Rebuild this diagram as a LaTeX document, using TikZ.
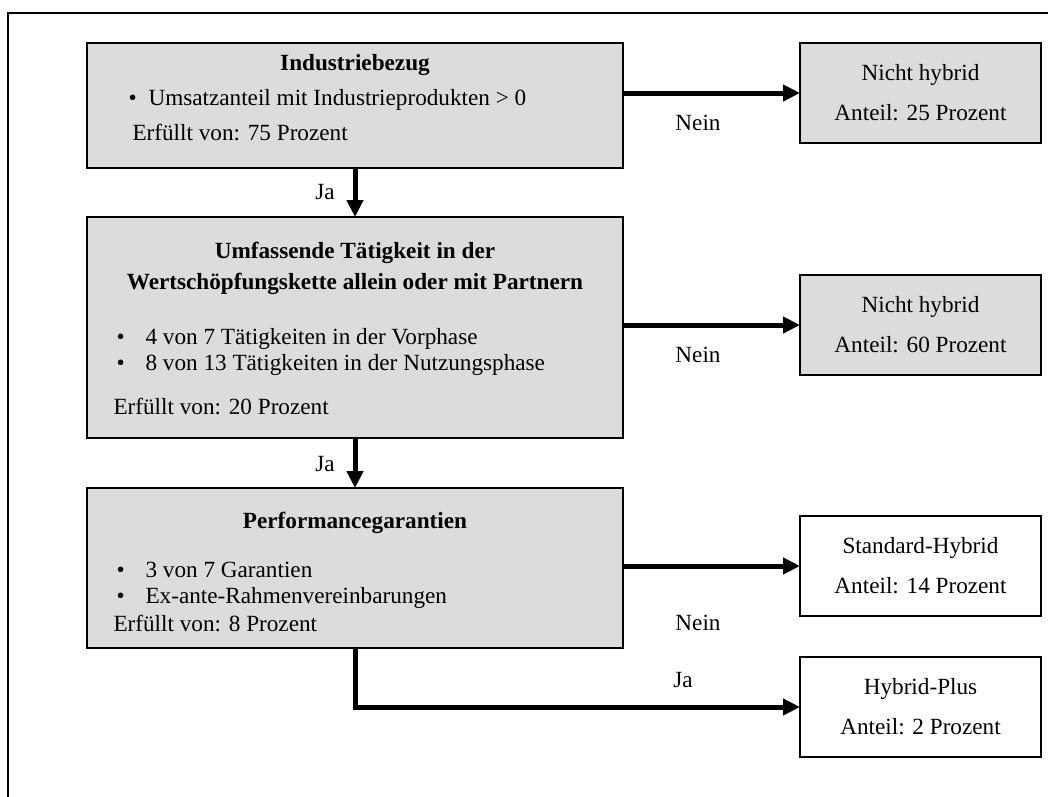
\documentclass[tikz,border=0pt]{standalone}
\usepackage{fontspec}
\setmainfont{Liberation Serif}
\usetikzlibrary{arrows.meta}

\definecolor{boxgray}{RGB}{220,220,220}

\tikzset{every picture/.style={line width=0.75pt}}
\tikzset{
	crit/.style={draw, line width=1.2pt, fill=boxgray, inner sep=0pt, outer sep=0pt, minimum width=402pt},
	result/.style={draw, line width=1.2pt, inner sep=0pt, outer sep=0pt, minimum width=180.75pt, minimum height=75pt, align=center},
	flow/.style={line width=3.75pt, -{Triangle[length=12.75pt,width=12pt]}},
	lbl/.style={inner sep=0pt},
	item/.style={inner sep=0pt, anchor=base west},
}

\begin{document}
\begin{tikzpicture}[x=0.75pt,y=0.75pt,yscale=-1,xscale=1,font=\fontsize{17.4}{21}\selectfont]
	\useasboundingbox (0,0) rectangle (1048,796); %picture is 1048 x 796

	%Straight Lines: frame, open to the right and below
	\draw [line width=1pt] (8,800) -- (8,13) -- (1050,13) ;

	%Shape: Rectangle [criteria]
	\node [crit, minimum height=93.75pt] (ind) at (355,105.5) {};
	\node [crit, minimum height=165.75pt] (umf) at (355,327.5) {};
	\node [crit, minimum height=120pt] (perf) at (355,568) {};

	%Shape: Rectangle [results]
	\node [result, fill=boxgray] (nh1) at (920.5,93) {Nicht hybrid\\[9pt]Anteil: 25 Prozent};
	\node [result, fill=boxgray] (nh2) at (920.5,325) {Nicht hybrid\\[9pt]Anteil: 60 Prozent};
	\node [result] (std) at (920.5,566) {Standard-Hybrid\\[9pt]Anteil: 14 Prozent};
	\node [result] (plus) at (920.5,707) {Hybrid-Plus\\[9pt]Anteil: 2 Prozent};

	%Straight Lines: Ja
	\draw [flow] (ind.south) -- (umf.north) ;
	\draw [flow] (umf.south) -- (perf.north) ;
	\draw [flow] (perf.south) |- (plus.west) ;
	%Straight Lines: Nein
	\draw [flow] (ind.east |- nh1.west) -- (nh1.west) ;
	\draw [flow] (umf.east |- nh2.west) -- (nh2.west) ;
	\draw [flow] (perf.east |- std.west) -- (std.west) ;

	% Text Node
	\node [lbl] (t1) at (355,65) {\textbf{Industriebezug}};
	\node [item] (b1) at (128,105) {\textbullet};
	\node [item] (i1) at (148,105) {Umsatzanteil mit Industrieprodukten > 0};
	\node [item] (e1) at (132,140) {Erfüllt von: 75 Prozent};
	% Text Node
	\node [lbl] (t2a) at (355,253) {\textbf{Umfassende Tätigkeit in der}};
	\node [lbl] (t2b) at (355,284) {\textbf{Wertschöpfungskette allein oder mit Partnern}};
	\node [item] (b2a) at (116,344) {\textbullet};
	\node [item] (i2a) at (145,344) {4 von 7 Tätigkeiten in der Vorphase};
	\node [item] (b2b) at (116,370) {\textbullet};
	\node [item] (i2b) at (145,370) {8 von 13 Tätigkeiten in der Nutzungsphase};
	\node [item] (e2) at (113,414) {Erfüllt von: 20 Prozent};
	% Text Node
	\node [lbl] (t3) at (355,523) {\textbf{Performancegarantien}};
	\node [item] (b3a) at (116,577) {\textbullet};
	\node [item] (i3a) at (145,577) {3 von 7 Garantien};
	\node [item] (b3b) at (116,603) {\textbullet};
	\node [item] (i3b) at (145,603) {Ex-ante-Rahmenvereinbarungen};
	\node [item] (e3) at (113,631) {Erfüllt von: 8 Prozent};
	% Text Node
	\node [lbl] (ja1) at (325,192) {Ja};
	\node [lbl] (ja2) at (325,464) {Ja};
	\node [lbl] (ja3) at (683,680) {Ja};
	\node [lbl] (nein1) at (698,123) {Nein};
	\node [lbl] (nein2) at (698,355) {Nein};
	\node [lbl] (nein3) at (698,623) {Nein};

\end{tikzpicture}
\end{document}
